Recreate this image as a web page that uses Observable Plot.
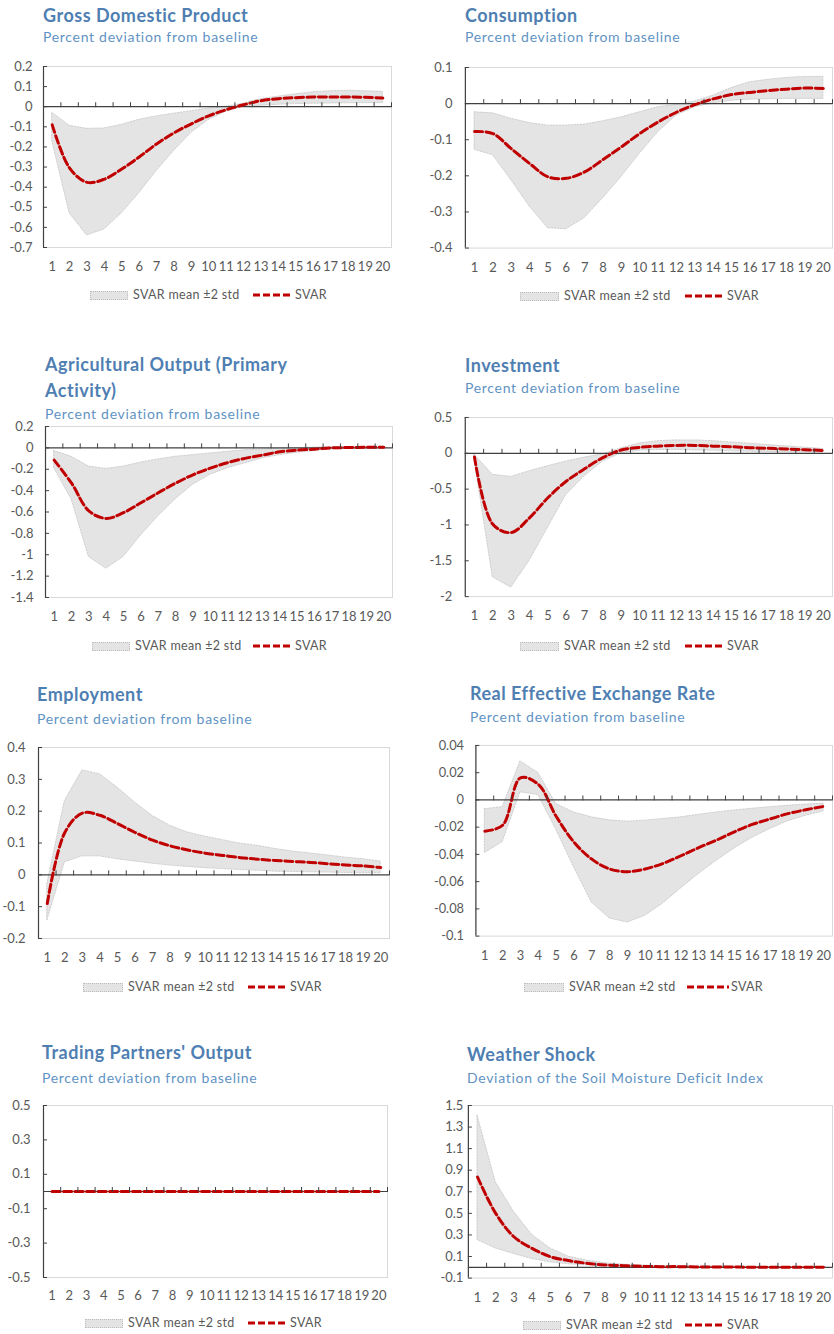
<!DOCTYPE html>
<html><head><meta charset="utf-8">
<script src="https://cdn.jsdelivr.net/npm/d3@7"></script>
<script src="https://cdn.jsdelivr.net/npm/@observablehq/plot@0.6"></script>
<style>
html,body{margin:0;padding:0;background:#fff;overflow:hidden;}
#root{position:relative;width:834px;height:1334px;overflow:hidden;font-family:Lato,"Open Sans",sans-serif;}
.t{position:absolute;font-weight:700;font-size:18px;line-height:18px;letter-spacing:0.5px;color:#4f7fb2;white-space:nowrap;}
.s{position:absolute;font-size:14px;line-height:14px;letter-spacing:0.7px;color:#5f93c4;white-space:nowrap;}
.lg{position:absolute;font-size:12.5px;line-height:12px;height:12px;letter-spacing:0.3px;color:#595959;display:flex;align-items:center;white-space:nowrap;}
.sw{display:inline-block;height:7px;background:#e4e4e4;border:1px dotted #bdbdbd;margin-right:5px;box-sizing:content-box;}
.pl{position:absolute;}
</style></head><body><div id="root"></div><script>
// ---- data ----
const periods = [1,2,3,4,5,6,7,8,9,10,11,12,13,14,15,16,17,18,19,20];

const gdpMean = [-0.09,-0.305,-0.376,-0.36,-0.31,-0.25,-0.185,-0.13,-0.085,-0.045,-0.015,0.01,0.03,0.04,0.045,0.048,0.048,0.048,0.047,0.043];
const gdpHi   = [-0.03,-0.095,-0.11,-0.108,-0.09,-0.065,-0.048,-0.035,-0.022,-0.008,0.0,0.015,0.038,0.05,0.062,0.072,0.077,0.079,0.077,0.074];
const gdpLo   = [-0.17,-0.53,-0.64,-0.61,-0.53,-0.43,-0.32,-0.22,-0.13,-0.065,-0.025,0.0,0.005,0.01,0.013,0.015,0.016,0.017,0.018,0.018];
const gdpTicks = [0.2,0.1,0,-0.1,-0.2,-0.3,-0.4,-0.5,-0.6,-0.7];

const conMean = [-0.077,-0.083,-0.125,-0.166,-0.203,-0.207,-0.189,-0.155,-0.12,-0.083,-0.051,-0.024,-0.003,0.013,0.025,0.031,0.036,0.04,0.043,0.042];
const conHi   = [-0.024,-0.027,-0.042,-0.054,-0.061,-0.061,-0.058,-0.049,-0.038,-0.024,-0.01,-0.004,0.006,0.022,0.043,0.059,0.066,0.071,0.074,0.074];
const conLo   = [-0.128,-0.143,-0.212,-0.285,-0.345,-0.348,-0.317,-0.262,-0.203,-0.139,-0.079,-0.033,-0.01,0.001,0.008,0.011,0.012,0.013,0.013,0.013];
const conTicks = [0.1,0,-0.1,-0.2,-0.3,-0.4];

const agrMean = [-0.114,-0.33,-0.59,-0.66,-0.606,-0.514,-0.42,-0.33,-0.252,-0.19,-0.138,-0.098,-0.068,-0.037,-0.022,-0.012,0.0,0.003,0.006,0.006];
const agrHi   = [-0.03,-0.083,-0.175,-0.197,-0.175,-0.138,-0.108,-0.083,-0.068,-0.052,-0.037,-0.022,-0.015,-0.009,-0.003,0.003,0.006,0.008,0.01,0.01];
const agrLo   = [-0.19,-0.48,-1.02,-1.13,-1.02,-0.82,-0.64,-0.48,-0.345,-0.252,-0.19,-0.145,-0.098,-0.068,-0.046,-0.028,-0.015,-0.009,-0.006,-0.003];
const agrTicks = [0.2,0,-0.2,-0.4,-0.6,-0.8,-1,-1.2,-1.4];

const invMean = [-0.05,-0.99,-1.106,-0.9,-0.62,-0.39,-0.217,-0.06,0.046,0.083,0.1,0.11,0.11,0.1,0.092,0.078,0.069,0.06,0.05,0.04];
const invHi   = [-0.02,-0.3,-0.33,-0.25,-0.18,-0.115,-0.06,-0.014,0.07,0.138,0.17,0.18,0.18,0.17,0.152,0.134,0.115,0.097,0.078,0.06];
const invLo   = [-0.08,-1.73,-1.875,-1.5,-1.04,-0.58,-0.32,-0.115,0.0,0.037,0.046,0.046,0.04,0.037,0.028,0.023,0.018,0.014,0.014,0.01];
const invTicks = [0.5,0,-0.5,-1,-1.5,-2];

const empMean = [-0.09,0.133,0.194,0.187,0.161,0.133,0.109,0.091,0.078,0.068,0.061,0.054,0.049,0.045,0.042,0.039,0.035,0.031,0.028,0.023];
const empHi   = [-0.03,0.232,0.328,0.316,0.274,0.227,0.185,0.154,0.133,0.12,0.109,0.098,0.091,0.081,0.073,0.067,0.061,0.054,0.049,0.042];
const empLo   = [-0.144,0.039,0.058,0.058,0.049,0.042,0.035,0.029,0.025,0.021,0.018,0.015,0.013,0.01,0.009,0.008,0.007,0.006,0.005,0.005];
const empTicks = [0.4,0.3,0.2,0.1,0,-0.1,-0.2];

const reerMean = [-0.023,-0.0186,0.0162,0.0114,-0.012,-0.031,-0.0435,-0.0507,-0.0527,-0.0507,-0.0466,-0.041,-0.035,-0.0295,-0.0234,-0.018,-0.014,-0.0101,-0.0072,-0.0048];
const reerHi   = [-0.0068,-0.0053,0.0283,0.0198,-0.003,-0.0092,-0.0128,-0.015,-0.016,-0.0152,-0.014,-0.0128,-0.0109,-0.0092,-0.0077,-0.0065,-0.0053,-0.0043,-0.0034,-0.0027];
const reerLo   = [-0.039,-0.031,0.0056,0.0036,-0.0217,-0.0495,-0.0754,-0.087,-0.09,-0.085,-0.076,-0.065,-0.0543,-0.0447,-0.0357,-0.0278,-0.0213,-0.0157,-0.0116,-0.0085];
const reerTicks = [0.04,0.02,0,-0.02,-0.04,-0.06,-0.08,-0.1];

const tpMean = [0,0,0,0,0,0,0,0,0,0,0,0,0,0,0,0,0,0,0,0];
const tpHi   = [0,0,0,0,0,0,0,0,0,0,0,0,0,0,0,0,0,0,0,0];
const tpLo   = [0,0,0,0,0,0,0,0,0,0,0,0,0,0,0,0,0,0,0,0];
const tpTicks = [0.5,0.3,0.1,-0.1,-0.3,-0.5];

const wsMean = [0.837,0.5,0.283,0.175,0.098,0.062,0.037,0.022,0.015,0.009,0.006,0.006,0.003,0.002,0.002,0.001,0.001,0.001,0,0];
const wsHi   = [1.406,0.79,0.514,0.3,0.175,0.098,0.062,0.037,0.025,0.018,0.012,0.009,0.007,0.005,0.004,0.003,0.003,0.002,0.002,0.002];
const wsLo   = [0.252,0.175,0.123,0.077,0.046,0.028,0.018,0.012,0.009,0.006,0.005,0.004,0.003,0.002,0.001,0.001,0,0,0,0];
const wsTicks = [1.5,1.3,1.1,0.9,0.7,0.5,0.3,0.1,-0.1];

const bandLabel = "SVAR mean ±2 std";
const lineLabel = "SVAR";
const pctSub = "Percent deviation from baseline";

// ---- layout ----
const panels = [
 {title:["Gross Domestic Product"], sub:pctSub, mean:gdpMean, hi:gdpHi, lo:gdpLo, ticks:gdpTicks,
  L:43,T:66,R:391,B:247, tx:43, tb:[21.5], sb:42.5, xlab:266, ygap:11, leg:295, sw:[90,128], ln:[253,293]},
 {title:["Consumption"], sub:pctSub, mean:conMean, hi:conHi, lo:conLo, ticks:conTicks,
  L:465,T:67,R:833,B:248, tx:465, tb:[21.5], sb:42.5, xlab:267, ygap:13, leg:296, sw:[520,559], ln:[685,725]},
 {title:["Agricultural Output (Primary","Activity)"], sub:pctSub, mean:agrMean, hi:agrHi, lo:agrLo, ticks:agrTicks,
  L:45,T:426,R:392,B:597, tx:45, tb:[371,397], sb:419.5, xlab:616, ygap:12, leg:646, sw:[92,130], ln:[253,293]},
 {title:["Investment"], sub:pctSub, mean:invMean, hi:invHi, lo:invLo, ticks:invTicks,
  L:465,T:417,R:834,B:597, tx:465, tb:[371.5], sb:393, xlab:616, ygap:13, leg:646, sw:[520,559], ln:[685,725]},
 {title:["Employment"], sub:pctSub, mean:empMean, hi:empHi, lo:empLo, ticks:empTicks,
  L:38,T:747,R:389,B:938, tx:37, tb:[700.5], sb:724, xlab:957, ygap:13, leg:987, sw:[83,123], ln:[248,288]},
 {title:["Real Effective Exchange Rate"], sub:pctSub, mean:reerMean, hi:reerHi, lo:reerLo, ticks:reerTicks,
  L:476,T:745,R:837,B:938, tx:470, tb:[699.5], sb:722.5, xlab:957, ygap:12, leg:987, sw:[524,564], ln:[687,729]},
 {title:["Trading Partners' Output"], sub:pctSub, mean:tpMean, hi:tpHi, lo:tpLo, ticks:tpTicks,
  L:43,T:1105,R:387,B:1277, tx:42, tb:[1058.5], sb:1083, xlab:1295, ygap:13, leg:1323, sw:[85,123], ln:[248,288]},
 {title:["Weather Shock"], sub:"Deviation of the Soil Moisture Deficit Index", mean:wsMean, hi:wsHi, lo:wsLo, ticks:wsTicks,
  L:468,T:1105,R:833,B:1278, tx:467, tb:[1061], sb:1083, xlab:1297, ygap:5, leg:1325, sw:[523,561], ln:[685,725]}
];

const root = document.getElementById("root");
function div(cls, left, top, text) {
  const d = document.createElement("div");
  d.className = cls; d.style.left = left + "px"; d.style.top = top + "px";
  if (text != null) d.textContent = text;
  root.appendChild(d); return d;
}

for (const p of panels) {
  p.title.forEach((line, i) => div("t", p.tx, p.tb[i] - 16, line));
  div("s", p.tx, p.sb - 12.4, p.sub);

  const ml = 50, mr = 2, mt = 4, mb = 34;
  const data = periods.map((x, i) => ({x, m: p.mean[i], lo: p.lo[i], hi: p.hi[i]}));
  const x0 = periods[0] - 0.5, x1 = periods[periods.length - 1] + 0.5;
  const bounds = periods.map(d => d + 0.5);
  const ticks = p.ticks;
  const chart = Plot.plot({
    width: p.R - p.L + ml + mr,
    height: p.B - p.T + mt + mb,
    marginLeft: ml, marginRight: mr, marginTop: mt, marginBottom: mb,
    style: {fontFamily: "Lato, 'Open Sans', sans-serif", fontSize: "13px", color: "#595959", background: "transparent", overflow: "visible"},
    x: {domain: [x0, x1], label: null},
    y: {domain: [d3.min(ticks), d3.max(ticks)], label: null},
    marks: [
      Plot.frame({stroke: "#d9d9d9"}),
      Plot.areaY(data, {x: "x", y1: "lo", y2: "hi", fill: "#e4e4e4", stroke: "#c6c6c6", strokeWidth: 0.8, strokeDasharray: "1.5,1.5"}),
      Plot.ruleY([0], {stroke: "#404040", strokeWidth: 1.2}),
      Plot.line(data, {x: "x", y: "m", curve: "catmull-rom", stroke: "#c00000", strokeWidth: 3, strokeDasharray: "8,3.5"}),
      Plot.ruleX(bounds, {x: d => d, y1: 0, y2: 0, insetTop: -4, insetBottom: -1, stroke: "#404040"}),
      Plot.ruleX([x0], {stroke: "#404040", strokeWidth: 1.2}),
      Plot.ruleY(ticks, {y: d => d, x1: x0, x2: x0, insetRight: -4, stroke: "#404040"}),
      Plot.axisY(ticks, {tickSize: 0, tickPadding: p.ygap, tickFormat: d => String(d), label: null}),
      Plot.axisX(periods, {tickSize: 0, tickPadding: p.xlab - p.B - 4.5, tickFormat: d => String(d), label: null})
    ]
  });
  const holder = div("pl", p.L - ml, p.T - mt);
  holder.appendChild(chart);

  // legend
  const lg1 = div("lg", p.sw[0], p.leg - 6);
  const sw = document.createElement("span"); sw.className = "sw"; sw.style.width = (p.sw[1] - p.sw[0] - 2) + "px";
  lg1.appendChild(sw); lg1.appendChild(document.createTextNode(bandLabel));
  const lg2 = div("lg", p.ln[0], p.leg - 6);
  const w = p.ln[1] - p.ln[0];
  const ns = "http://www.w3.org/2000/svg";
  const s = document.createElementNS(ns, "svg"); s.setAttribute("width", w); s.setAttribute("height", 6);
  const l = document.createElementNS(ns, "line");
  l.setAttribute("x1", 0); l.setAttribute("x2", w); l.setAttribute("y1", 3); l.setAttribute("y2", 3);
  l.setAttribute("stroke", "#c00000"); l.setAttribute("stroke-width", 3); l.setAttribute("stroke-dasharray", "7,3");
  s.appendChild(l); lg2.appendChild(s);
  const t = document.createElement("span"); t.style.marginLeft = "2px"; t.textContent = lineLabel; lg2.appendChild(t);
}
</script></body></html>
